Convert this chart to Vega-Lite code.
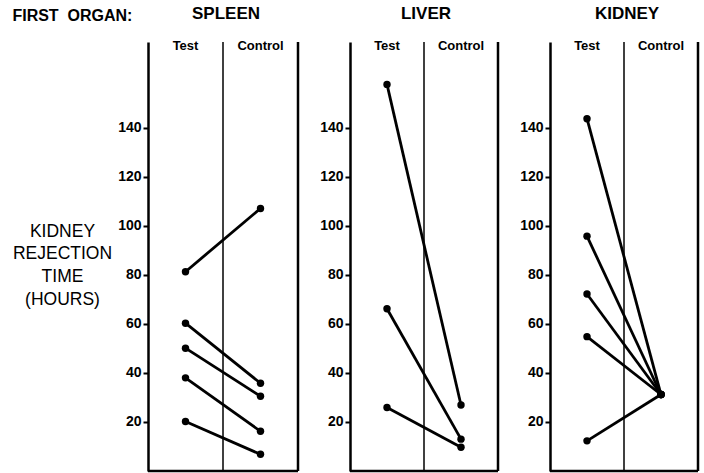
{
  "$schema": "https://vega.github.io/schema/vega-lite/v6.json",
  "background": "white",
  "padding": {"left": 12, "top": 5, "right": 5, "bottom": 5},
  "config": {
    "font": "Liberation Sans",
    "view": {"stroke": null},
    "concat": {"spacing": 19},
    "axis": {"grid": false, "domainColor": "black", "tickColor": "black", "labelColor": "black", "titleColor": "black"},
    "title": {"color": "black"}
  },
  "title": {"text": "FIRST\u00a0\u00a0ORGAN:", "anchor": "start", "fontSize": 16, "fontWeight": "bold", "dx": 0, "dy": 19, "offset": 0},
  "datasets": {
    "times": [
      {"organ": "SPLEEN", "animal": "S1", "group": "Test", "hours": 81.3},
      {"organ": "SPLEEN", "animal": "S1", "group": "Control", "hours": 107.1},
      {"organ": "SPLEEN", "animal": "S2", "group": "Test", "hours": 60.3},
      {"organ": "SPLEEN", "animal": "S2", "group": "Control", "hours": 35.8},
      {"organ": "SPLEEN", "animal": "S3", "group": "Test", "hours": 50.1},
      {"organ": "SPLEEN", "animal": "S3", "group": "Control", "hours": 30.5},
      {"organ": "SPLEEN", "animal": "S4", "group": "Test", "hours": 38.0},
      {"organ": "SPLEEN", "animal": "S4", "group": "Control", "hours": 16.2},
      {"organ": "SPLEEN", "animal": "S5", "group": "Test", "hours": 20.2},
      {"organ": "SPLEEN", "animal": "S5", "group": "Control", "hours": 6.8},
      {"organ": "LIVER", "animal": "L1", "group": "Test", "hours": 157.7},
      {"organ": "LIVER", "animal": "L1", "group": "Control", "hours": 26.9},
      {"organ": "LIVER", "animal": "L2", "group": "Test", "hours": 66.2},
      {"organ": "LIVER", "animal": "L2", "group": "Control", "hours": 13.0},
      {"organ": "LIVER", "animal": "L3", "group": "Test", "hours": 25.9},
      {"organ": "LIVER", "animal": "L3", "group": "Control", "hours": 9.7},
      {"organ": "KIDNEY", "animal": "K1", "group": "Test", "hours": 143.7},
      {"organ": "KIDNEY", "animal": "K1", "group": "Control", "hours": 31.2},
      {"organ": "KIDNEY", "animal": "K2", "group": "Test", "hours": 95.8},
      {"organ": "KIDNEY", "animal": "K2", "group": "Control", "hours": 31.2},
      {"organ": "KIDNEY", "animal": "K3", "group": "Test", "hours": 72.2},
      {"organ": "KIDNEY", "animal": "K3", "group": "Control", "hours": 31.2},
      {"organ": "KIDNEY", "animal": "K4", "group": "Test", "hours": 54.8},
      {"organ": "KIDNEY", "animal": "K4", "group": "Control", "hours": 31.2},
      {"organ": "KIDNEY", "animal": "K5", "group": "Test", "hours": 12.3},
      {"organ": "KIDNEY", "animal": "K5", "group": "Control", "hours": 31.2}
    ],
    "dividers": [{"group": "Control"}],
    "base": [{"hours": 0}]
  },
  "hconcat": [
    {
      "width": 150, "height": 429,
      "title": {"text": "SPLEEN", "fontSize": 17, "fontWeight": "bold", "offset": 16, "dx": 3},
      "layer": [
        {"data": {"name": "dividers"}, "mark": {"type": "rule", "color": "black", "strokeWidth": 1.5}, "encoding": {"x": {"field": "group", "type": "nominal", "bandPosition": 0}}},
        {"data": {"name": "dividers"}, "mark": {"type": "rule", "color": "black", "strokeWidth": 2.5}, "encoding": {"x": {"field": "group", "type": "nominal", "bandPosition": 1}}},
        {"data": {"name": "base"}, "mark": {"type": "rule", "color": "black", "strokeWidth": 2.5}, "encoding": {"y": {"field": "hours", "type": "quantitative"}}},
        {"data": {"name": "times"}, "transform": [{"filter": "datum.organ === 'SPLEEN'"}],
         "mark": {"type": "line", "color": "black", "strokeWidth": 2.8},
         "encoding": {
           "x": {"field": "group", "type": "nominal", "scale": {"type": "band", "domain": ["Test", "Control"], "paddingInner": 0, "paddingOuter": 0},
                 "axis": {"orient": "top", "title": null, "domain": false, "ticks": false, "labelAngle": 0, "labelAlign": "center", "labelFontSize": 13, "labelFontWeight": "bold", "labelBaseline": "middle", "labelPadding": -3}},
           "y": {"field": "hours", "type": "quantitative", "scale": {"domain": [0, 175], "nice": false},
                 "axis": {"values": [20, 40, 60, 80, 100, 120, 140], "tickSize": 5, "tickWidth": 2, "domainWidth": 2.5, "labelFontSize": 14, "labelFontWeight": "bold", "labelPadding": 2,
                          "title": ["KIDNEY", "REJECTION", "TIME", "(HOURS)"], "titleAngle": 0, "titleAlign": "center", "titleBaseline": "middle", "titleFontSize": 17.5, "titleFontWeight": "normal", "titleLineHeight": 22.7, "titleX": -86, "titleY": 189}},
           "detail": {"field": "animal"}
         }},
        {"data": {"name": "times"}, "transform": [{"filter": "datum.organ === 'SPLEEN'"}],
         "mark": {"type": "point", "filled": true, "color": "black", "opacity": 1, "size": 55},
         "encoding": {"x": {"field": "group", "type": "nominal"}, "y": {"field": "hours", "type": "quantitative"}}}
      ]
    },
    {
      "width": 148, "height": 429,
      "title": {"text": "LIVER", "fontSize": 17, "fontWeight": "bold", "offset": 16, "dx": 2},
      "layer": [
        {"data": {"name": "dividers"}, "mark": {"type": "rule", "color": "black", "strokeWidth": 1.5}, "encoding": {"x": {"field": "group", "type": "nominal", "bandPosition": 0}}},
        {"data": {"name": "dividers"}, "mark": {"type": "rule", "color": "black", "strokeWidth": 2.5}, "encoding": {"x": {"field": "group", "type": "nominal", "bandPosition": 1}}},
        {"data": {"name": "base"}, "mark": {"type": "rule", "color": "black", "strokeWidth": 2.5}, "encoding": {"y": {"field": "hours", "type": "quantitative"}}},
        {"data": {"name": "times"}, "transform": [{"filter": "datum.organ === 'LIVER'"}],
         "mark": {"type": "line", "color": "black", "strokeWidth": 2.8},
         "encoding": {
           "x": {"field": "group", "type": "nominal", "scale": {"type": "band", "domain": ["Test", "Control"], "paddingInner": 0, "paddingOuter": 0},
                 "axis": {"orient": "top", "title": null, "domain": false, "ticks": false, "labelAngle": 0, "labelAlign": "center", "labelFontSize": 13, "labelFontWeight": "bold", "labelBaseline": "middle", "labelPadding": -3}},
           "y": {"field": "hours", "type": "quantitative", "scale": {"domain": [0, 175], "nice": false},
                 "axis": {"values": [20, 40, 60, 80, 100, 120, 140], "tickSize": 5, "tickWidth": 2, "domainWidth": 2.5, "labelFontSize": 14, "labelFontWeight": "bold", "labelPadding": 2, "title": null}},
           "detail": {"field": "animal"}
         }},
        {"data": {"name": "times"}, "transform": [{"filter": "datum.organ === 'LIVER'"}],
         "mark": {"type": "point", "filled": true, "color": "black", "opacity": 1, "size": 55},
         "encoding": {"x": {"field": "group", "type": "nominal"}, "y": {"field": "hours", "type": "quantitative"}}}
      ]
    },
    {
      "width": 148, "height": 429,
      "title": {"text": "KIDNEY", "fontSize": 17, "fontWeight": "bold", "offset": 16, "dx": 3},
      "layer": [
        {"data": {"name": "dividers"}, "mark": {"type": "rule", "color": "black", "strokeWidth": 1.5}, "encoding": {"x": {"field": "group", "type": "nominal", "bandPosition": 0}}},
        {"data": {"name": "dividers"}, "mark": {"type": "rule", "color": "black", "strokeWidth": 2.5}, "encoding": {"x": {"field": "group", "type": "nominal", "bandPosition": 1}}},
        {"data": {"name": "base"}, "mark": {"type": "rule", "color": "black", "strokeWidth": 2.5}, "encoding": {"y": {"field": "hours", "type": "quantitative"}}},
        {"data": {"name": "times"}, "transform": [{"filter": "datum.organ === 'KIDNEY'"}],
         "mark": {"type": "line", "color": "black", "strokeWidth": 2.8},
         "encoding": {
           "x": {"field": "group", "type": "nominal", "scale": {"type": "band", "domain": ["Test", "Control"], "paddingInner": 0, "paddingOuter": 0},
                 "axis": {"orient": "top", "title": null, "domain": false, "ticks": false, "labelAngle": 0, "labelAlign": "center", "labelFontSize": 13, "labelFontWeight": "bold", "labelBaseline": "middle", "labelPadding": -3}},
           "y": {"field": "hours", "type": "quantitative", "scale": {"domain": [0, 175], "nice": false},
                 "axis": {"values": [20, 40, 60, 80, 100, 120, 140], "tickSize": 5, "tickWidth": 2, "domainWidth": 2.5, "labelFontSize": 14, "labelFontWeight": "bold", "labelPadding": 2, "title": null}},
           "detail": {"field": "animal"}
         }},
        {"data": {"name": "times"}, "transform": [{"filter": "datum.organ === 'KIDNEY'"}],
         "mark": {"type": "point", "filled": true, "color": "black", "opacity": 1, "size": 55},
         "encoding": {"x": {"field": "group", "type": "nominal"}, "y": {"field": "hours", "type": "quantitative"}}}
      ]
    }
  ]
}
